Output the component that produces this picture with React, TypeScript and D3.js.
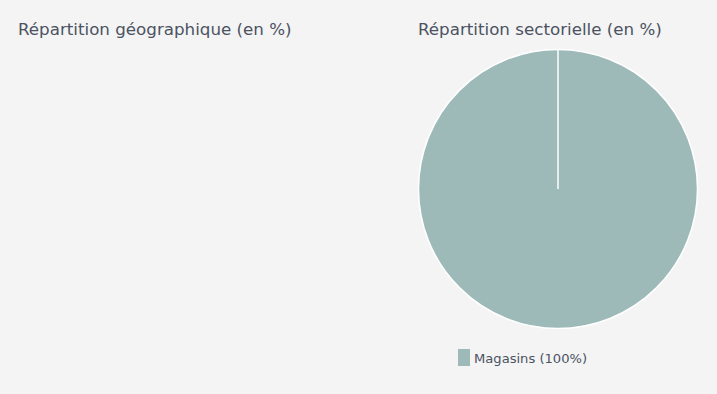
import * as d3 from "d3";

const titles = ["Répartition géographique (en %)", "Répartition sectorielle (en %)"];
const sectors = ["Magasins"];
const sectorValues = [100];
const colors = ["#9dbab9"];

export default function App() {
  const width = 717;
  const height = 394;
  const cx = 558;
  const cy = 189;
  const radius = 139.5;

  const pie = d3.pie<number>().sort(null).value((d) => d);
  const arc = d3.arc<d3.PieArcDatum<number>>().innerRadius(0).outerRadius(radius);
  const arcs = pie(sectorValues);

  const font = "'DejaVu Sans', sans-serif";
  const textColor = "#4b5262";

  return (
    <svg
      width={width}
      height={height}
      style={{ position: "fixed", left: 0, top: 0, background: "#f4f4f4" }}
    >
      <rect width={width} height={height} fill="#f4f4f4" />
      <text x={18} y={35} fontFamily={font} fontSize={16.7} fill={textColor}>
        {titles[0]}
      </text>
      <text x={418} y={35} fontFamily={font} fontSize={16.7} fill={textColor}>
        {titles[1]}
      </text>
      <g transform={`translate(${cx},${cy})`}>
        {arcs.map((a, i) => {
          const [px, py] = d3.pointRadial(a.startAngle, radius);
          return (
            <g key={i}>
              <path d={arc(a) as string} fill={colors[i]} stroke="#ffffff" strokeWidth={1.5} />
              <line x1={0} y1={0} x2={px} y2={py} stroke="#ffffff" strokeWidth={1.5} />
            </g>
          );
        })}
      </g>
      <g fontFamily={font} fontSize={13.1} fill={textColor}>
        {sectors.map((s, i) => (
          <g key={s} transform={`translate(458,${349 + i * 20})`}>
            <rect width={12} height={17} fill={colors[i]} />
            <text x={16} y={14}>
              {`${s} (${sectorValues[i]}%)`}
            </text>
          </g>
        ))}
      </g>
    </svg>
  );
}
